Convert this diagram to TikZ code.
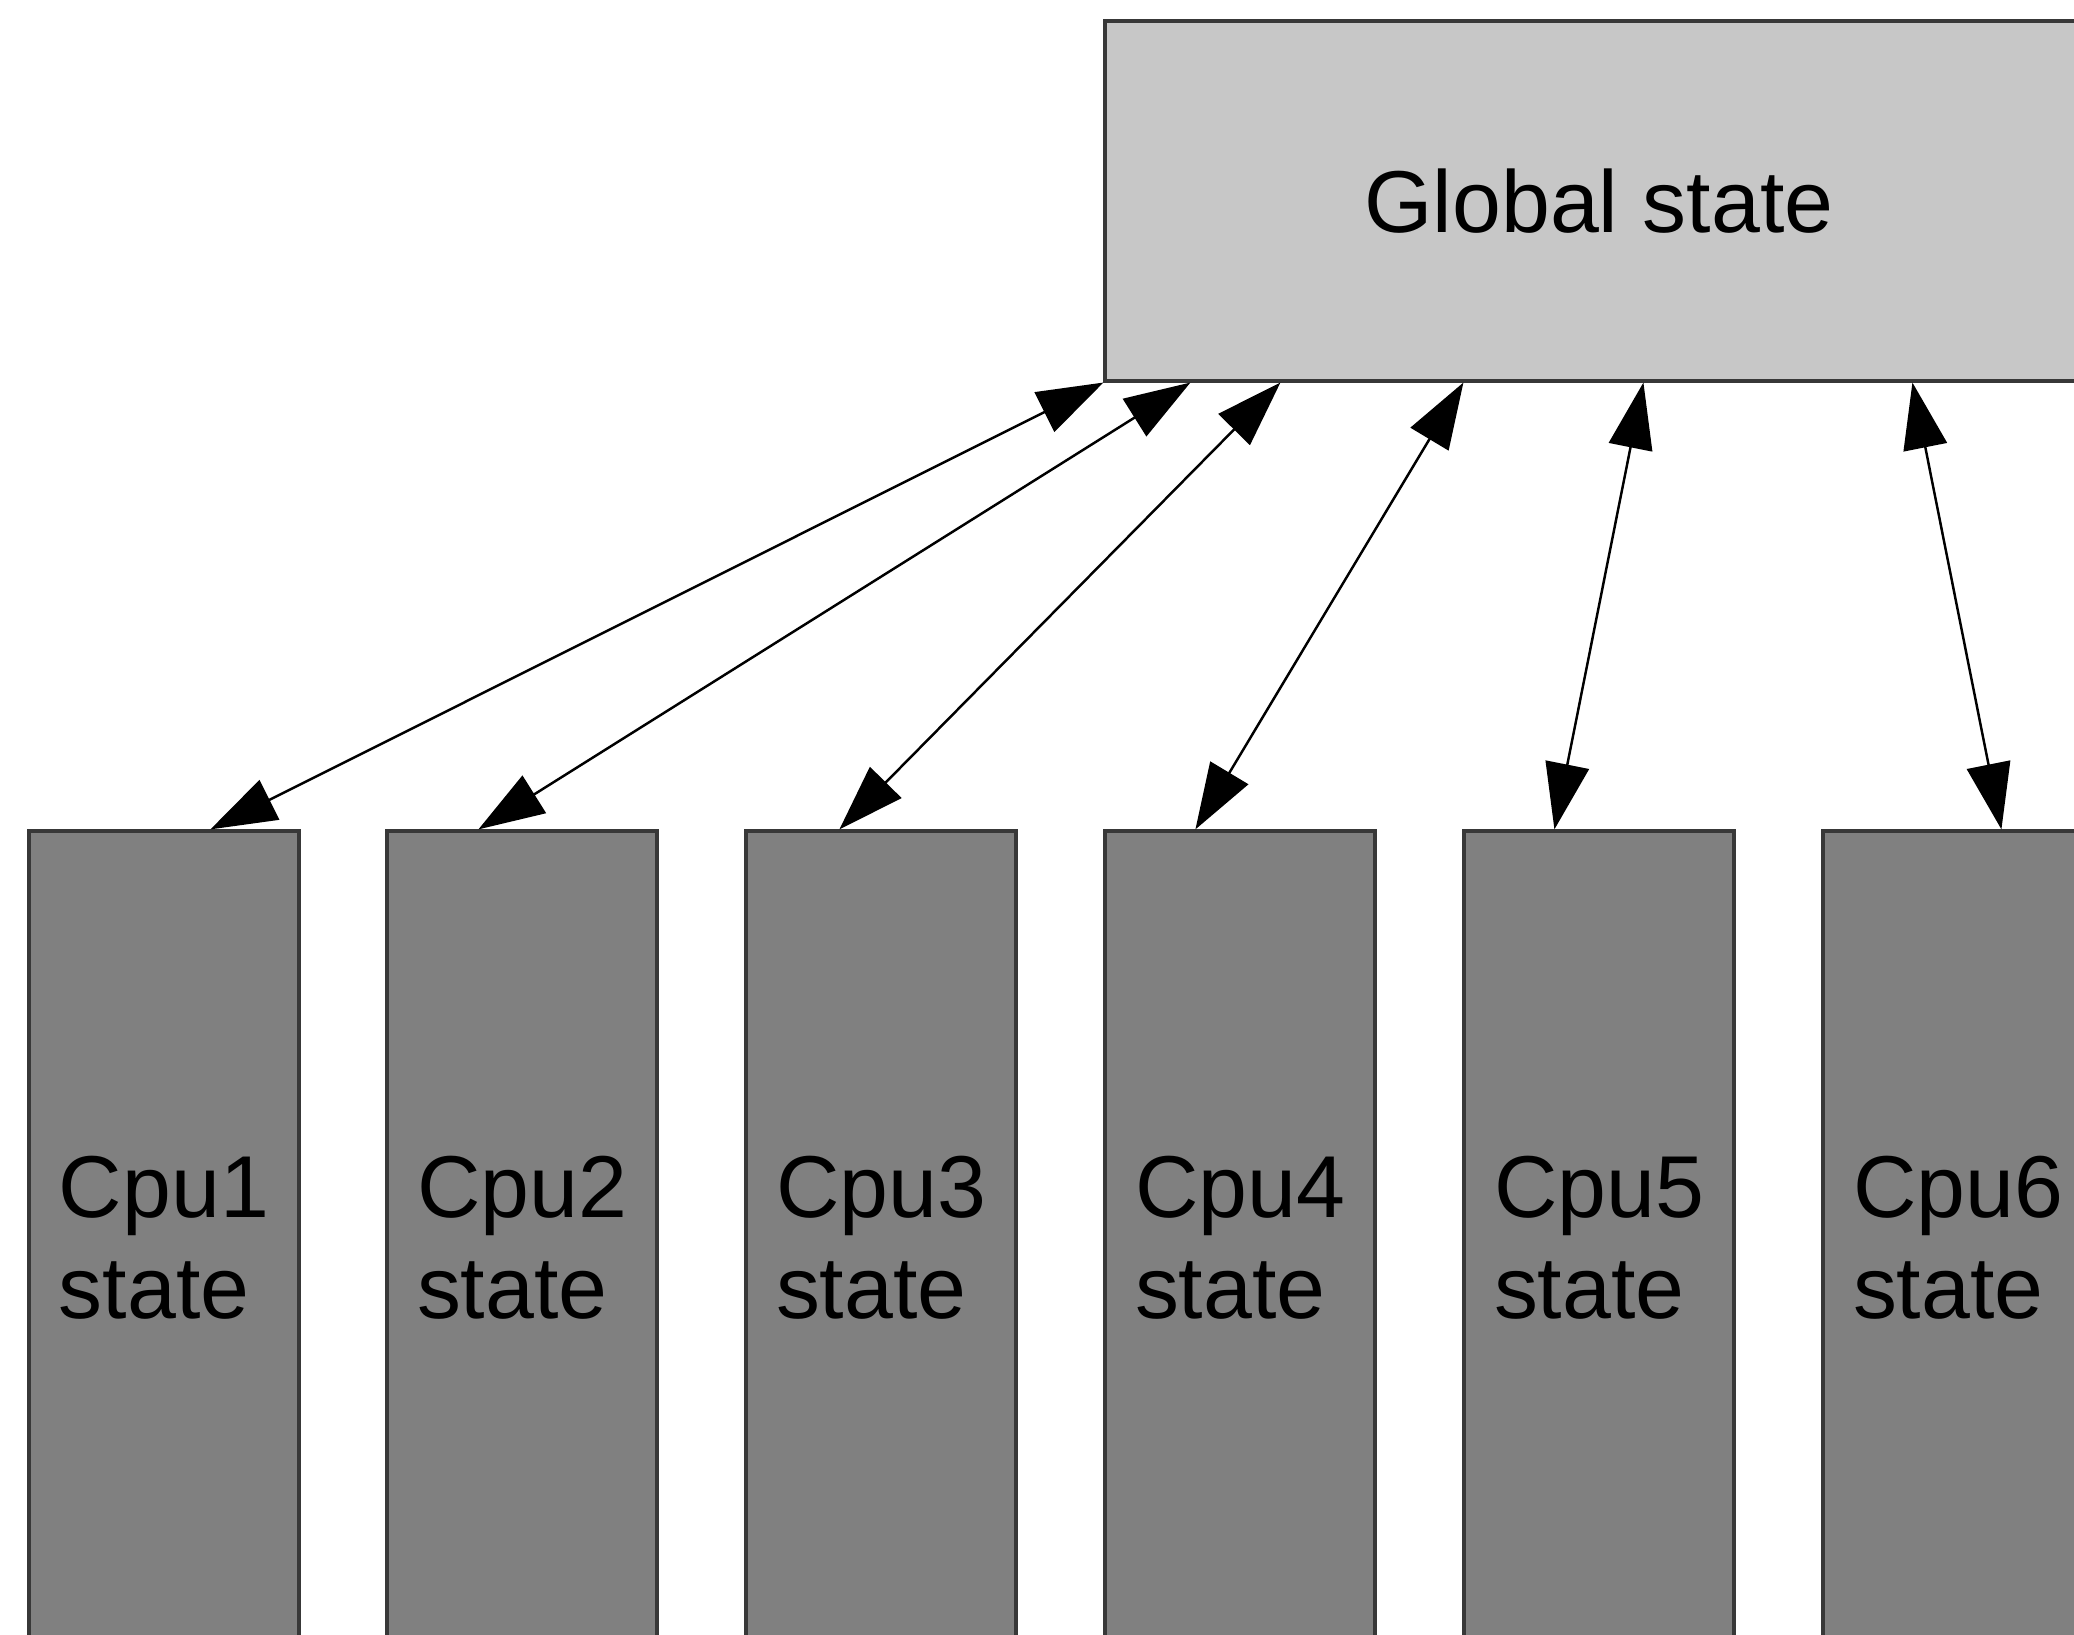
\documentclass[tikz,border=0pt]{standalone}
\usepackage{fontspec}
\setmainfont{Liberation Sans}
\usetikzlibrary{arrows.meta}

\begin{document}
\begin{tikzpicture}[>={Triangle[length=6.6mm,width=4.4mm]},
  every node/.style={font=\fontsize{25}{28.7}\selectfont},
  global/.style={draw=black!78, line width=0.9pt, fill=black!22,
    minimum width=9.88cm, minimum height=3.6cm, inner sep=0pt},
  cpu/.style={draw=black!78, line width=0.9pt, fill=black!50,
    minimum width=2.7cm, minimum height=8.14cm, inner sep=0pt,
    text width=2.1cm, align=left},
  link/.style={<->, line width=0.7pt}]
  \useasboundingbox (0,0) rectangle (20.74,16.35);
  \clip (0,0) rectangle (20.74,16.35);
  \node[global] (G)  at (15.99,14.34) {Global state};
  \node[cpu]    (C1) at (1.64,3.97)   {Cpu1\\state};
  \node[cpu]    (C2) at (5.22,3.97)   {Cpu2\\state};
  \node[cpu]    (C3) at (8.81,3.97)   {Cpu3\\state};
  \node[cpu]    (C4) at (12.40,3.97)  {Cpu4\\state};
  \node[cpu]    (C5) at (15.99,3.97)  {Cpu5\\state};
  \node[cpu]    (C6) at (19.58,3.97)  {Cpu6\\state};
  % each cpu talks to the shared state both ways
  \draw[link] (G.south west) -- ([xshift=1.83cm]C1.north west);
  \draw[link] ([xshift=0.87cm]G.south west) -- ([xshift=0.93cm]C2.north west);
  \draw[link] ([xshift=1.77cm]G.south west) -- ([xshift=0.95cm]C3.north west);
  \draw[link] ([xshift=3.60cm]G.south west) -- ([xshift=0.92cm]C4.north west);
  \draw[link] ([xshift=5.40cm]G.south west) -- ([xshift=0.92cm]C5.north west);
  \draw[link] ([xshift=8.09cm]G.south west) -- ([xshift=1.80cm]C6.north west);
\end{tikzpicture}
\end{document}
